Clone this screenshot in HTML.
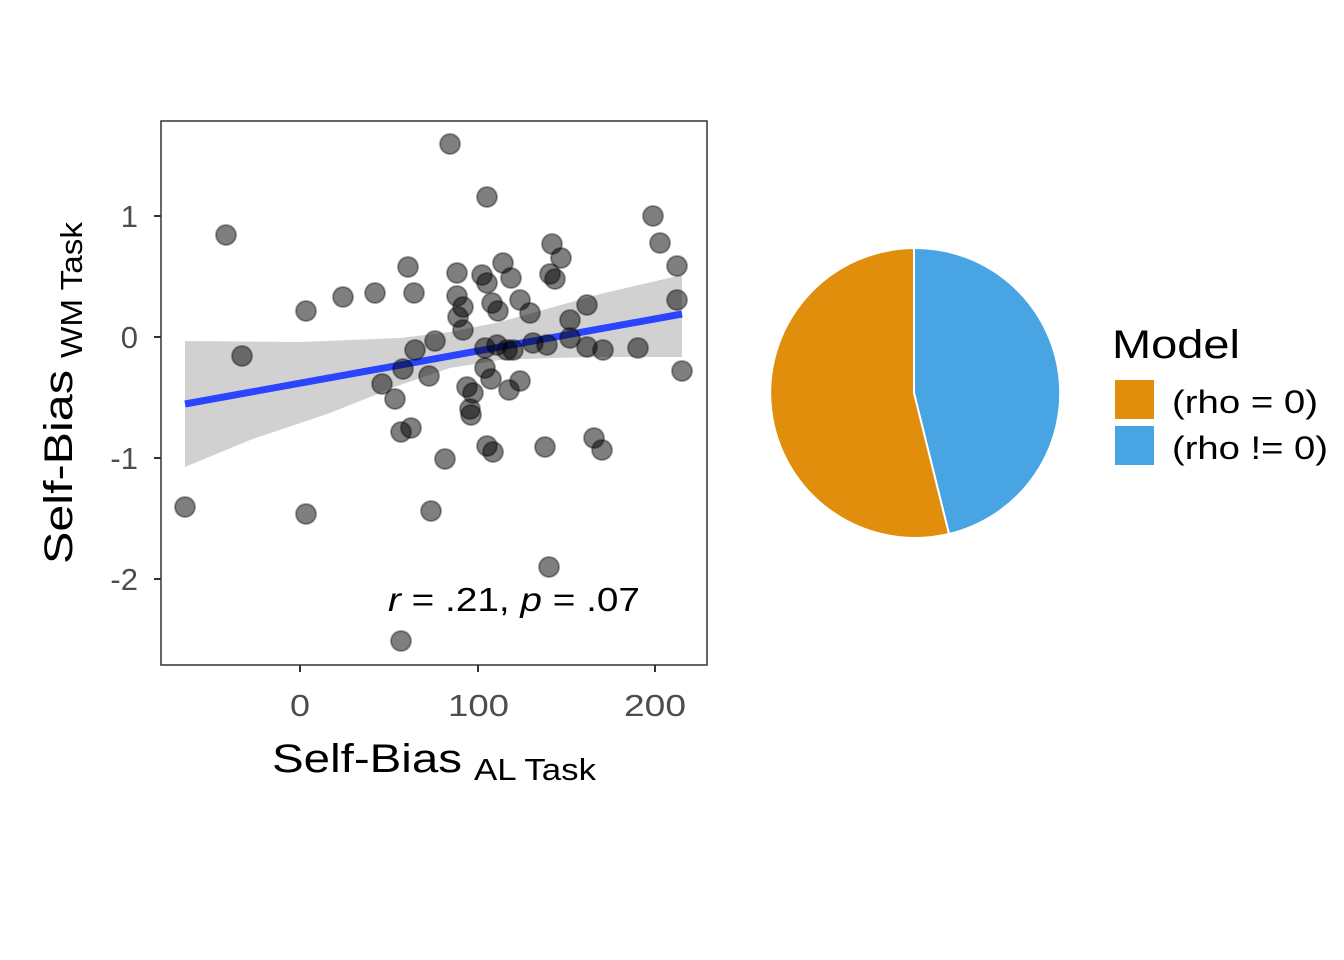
<!DOCTYPE html>
<html><head><meta charset="utf-8"><style>
html,body{margin:0;padding:0;background:#fff;}
svg{display:block;font-family:"Liberation Sans",Arial,sans-serif;}
</style></head><body>
<svg width="1344" height="960" viewBox="0 0 1344 960" xmlns="http://www.w3.org/2000/svg">
<rect width="1344" height="960" fill="#fff"/>
<polygon points="185,341 300,342 400,338 450,332 500,322 550,308 600,294 682,275 682,357 600,357 550,358 500,360 450,368 400,385 330,413 250,440 185,467" fill="#cccccc" opacity="0.9"/>
<line x1="185" y1="404" x2="682" y2="314" stroke="#2a44ff" stroke-width="7"/>
<g fill="rgba(0,0,0,0.5)" stroke="rgba(0,0,0,0.35)" stroke-width="2">
<circle cx="487" cy="197" r="10"/><circle cx="653" cy="216" r="10"/><circle cx="660" cy="243" r="10"/>
<circle cx="677" cy="266" r="10"/><circle cx="677" cy="300" r="10"/><circle cx="682" cy="371" r="10"/>
<circle cx="552" cy="244" r="10"/><circle cx="561" cy="258" r="10"/><circle cx="550" cy="274" r="10"/>
<circle cx="555" cy="279" r="10"/><circle cx="408" cy="267" r="10"/><circle cx="457" cy="273" r="10"/>
<circle cx="482" cy="275" r="10"/><circle cx="487" cy="283" r="10"/><circle cx="503" cy="263" r="10"/>
<circle cx="511" cy="278" r="10"/><circle cx="343" cy="297" r="10"/><circle cx="375" cy="293" r="10"/>
<circle cx="414" cy="293" r="10"/><circle cx="457" cy="296" r="10"/><circle cx="463" cy="307" r="10"/>
<circle cx="458" cy="317" r="10"/><circle cx="463" cy="330" r="10"/><circle cx="492" cy="303" r="10"/>
<circle cx="498" cy="311" r="10"/><circle cx="520" cy="300" r="10"/><circle cx="530" cy="313" r="10"/>
<circle cx="587" cy="305" r="10"/><circle cx="570" cy="320" r="10"/><circle cx="435" cy="341" r="10"/>
<circle cx="415" cy="350" r="10"/><circle cx="485" cy="348" r="10"/><circle cx="497" cy="345" r="10"/>
<circle cx="507" cy="350" r="10"/><circle cx="513" cy="350" r="10"/><circle cx="533" cy="343" r="10"/>
<circle cx="547" cy="345" r="10"/><circle cx="570" cy="338" r="10"/><circle cx="587" cy="347" r="10"/>
<circle cx="603" cy="350" r="10"/><circle cx="638" cy="348" r="10"/><circle cx="403" cy="369" r="10"/>
<circle cx="429" cy="376" r="10"/><circle cx="382" cy="384" r="10"/><circle cx="395" cy="399" r="10"/>
<circle cx="485" cy="368" r="10"/><circle cx="491" cy="379" r="10"/><circle cx="520" cy="381" r="10"/>
<circle cx="509" cy="390" r="10"/><circle cx="467" cy="387" r="10"/><circle cx="473" cy="393" r="10"/>
<circle cx="470" cy="409" r="10"/><circle cx="471" cy="415" r="10"/><circle cx="401" cy="432" r="10"/>
<circle cx="411" cy="428" r="10"/><circle cx="487" cy="446" r="10"/><circle cx="493" cy="452" r="10"/>
<circle cx="545" cy="447" r="10"/><circle cx="594" cy="438" r="10"/><circle cx="602" cy="450" r="10"/>
<circle cx="445" cy="459" r="10"/><circle cx="226" cy="235" r="10"/><circle cx="242" cy="356" r="10"/>
<circle cx="185" cy="507" r="10"/><circle cx="306" cy="514" r="10"/><circle cx="306" cy="311" r="10"/>
<circle cx="431" cy="511" r="10"/><circle cx="549" cy="567" r="10"/><circle cx="401" cy="641" r="10"/>
<circle cx="450" cy="144" r="10"/>
</g>
<rect x="161" y="121" width="546" height="544" fill="none" stroke="#333" stroke-width="1.5"/>
<g stroke="#333" stroke-width="2">
<line x1="154" y1="216" x2="161" y2="216"/><line x1="154" y1="337" x2="161" y2="337"/>
<line x1="154" y1="458" x2="161" y2="458"/><line x1="154" y1="579" x2="161" y2="579"/>
<line x1="300" y1="665" x2="300" y2="672"/><line x1="478" y1="665" x2="478" y2="672"/><line x1="655" y1="665" x2="655" y2="672"/>
</g>
<g font-size="31" fill="#4d4d4d" text-anchor="end">
<text x="138" y="227">1</text><text x="138" y="348">0</text><text x="138" y="469">-1</text><text x="138" y="590">-2</text>
</g>
<g font-size="31" fill="#4d4d4d">
<text x="290" y="716" textLength="20" lengthAdjust="spacingAndGlyphs">0</text>
<text x="448" y="716" textLength="61" lengthAdjust="spacingAndGlyphs">100</text>
<text x="624" y="716" textLength="62" lengthAdjust="spacingAndGlyphs">200</text>
</g>
<text x="272" y="772" font-size="40" fill="#000" textLength="190" lengthAdjust="spacingAndGlyphs">Self-Bias</text>
<text x="474" y="780" font-size="31" fill="#000" textLength="122" lengthAdjust="spacingAndGlyphs">AL Task</text>
<g transform="translate(72,564) rotate(-90)">
<text x="0" y="0" font-size="40" fill="#000" textLength="194" lengthAdjust="spacingAndGlyphs">Self-Bias</text>
<text x="206" y="10" font-size="31" fill="#000" textLength="136" lengthAdjust="spacingAndGlyphs">WM Task</text>
</g>
<text x="388" y="611" font-size="33" fill="#000" textLength="252" lengthAdjust="spacingAndGlyphs"><tspan font-style="italic">r</tspan> = .21, <tspan font-style="italic">p</tspan> = .07</text>
<path d="M914,393 L914,248 A145,145 0 0 1 949,534 Z" fill="#48A4E2" stroke="#fff" stroke-width="2"/>
<path d="M914,393 L949,534 A145,145 0 1 1 914,248 Z" fill="#E08E0B" stroke="#fff" stroke-width="2"/>
<text x="1112" y="358" font-size="40" fill="#000" textLength="128" lengthAdjust="spacingAndGlyphs">Model</text>
<rect x="1115" y="380" width="39" height="39" fill="#E08E0B"/>
<rect x="1115" y="426" width="39" height="39" fill="#48A4E2"/>
<text x="1172" y="413" font-size="32" fill="#000" textLength="146" lengthAdjust="spacingAndGlyphs">(rho = 0)</text>
<text x="1172" y="459" font-size="32" fill="#000" textLength="156" lengthAdjust="spacingAndGlyphs">(rho != 0)</text>
</svg>
</body></html>
